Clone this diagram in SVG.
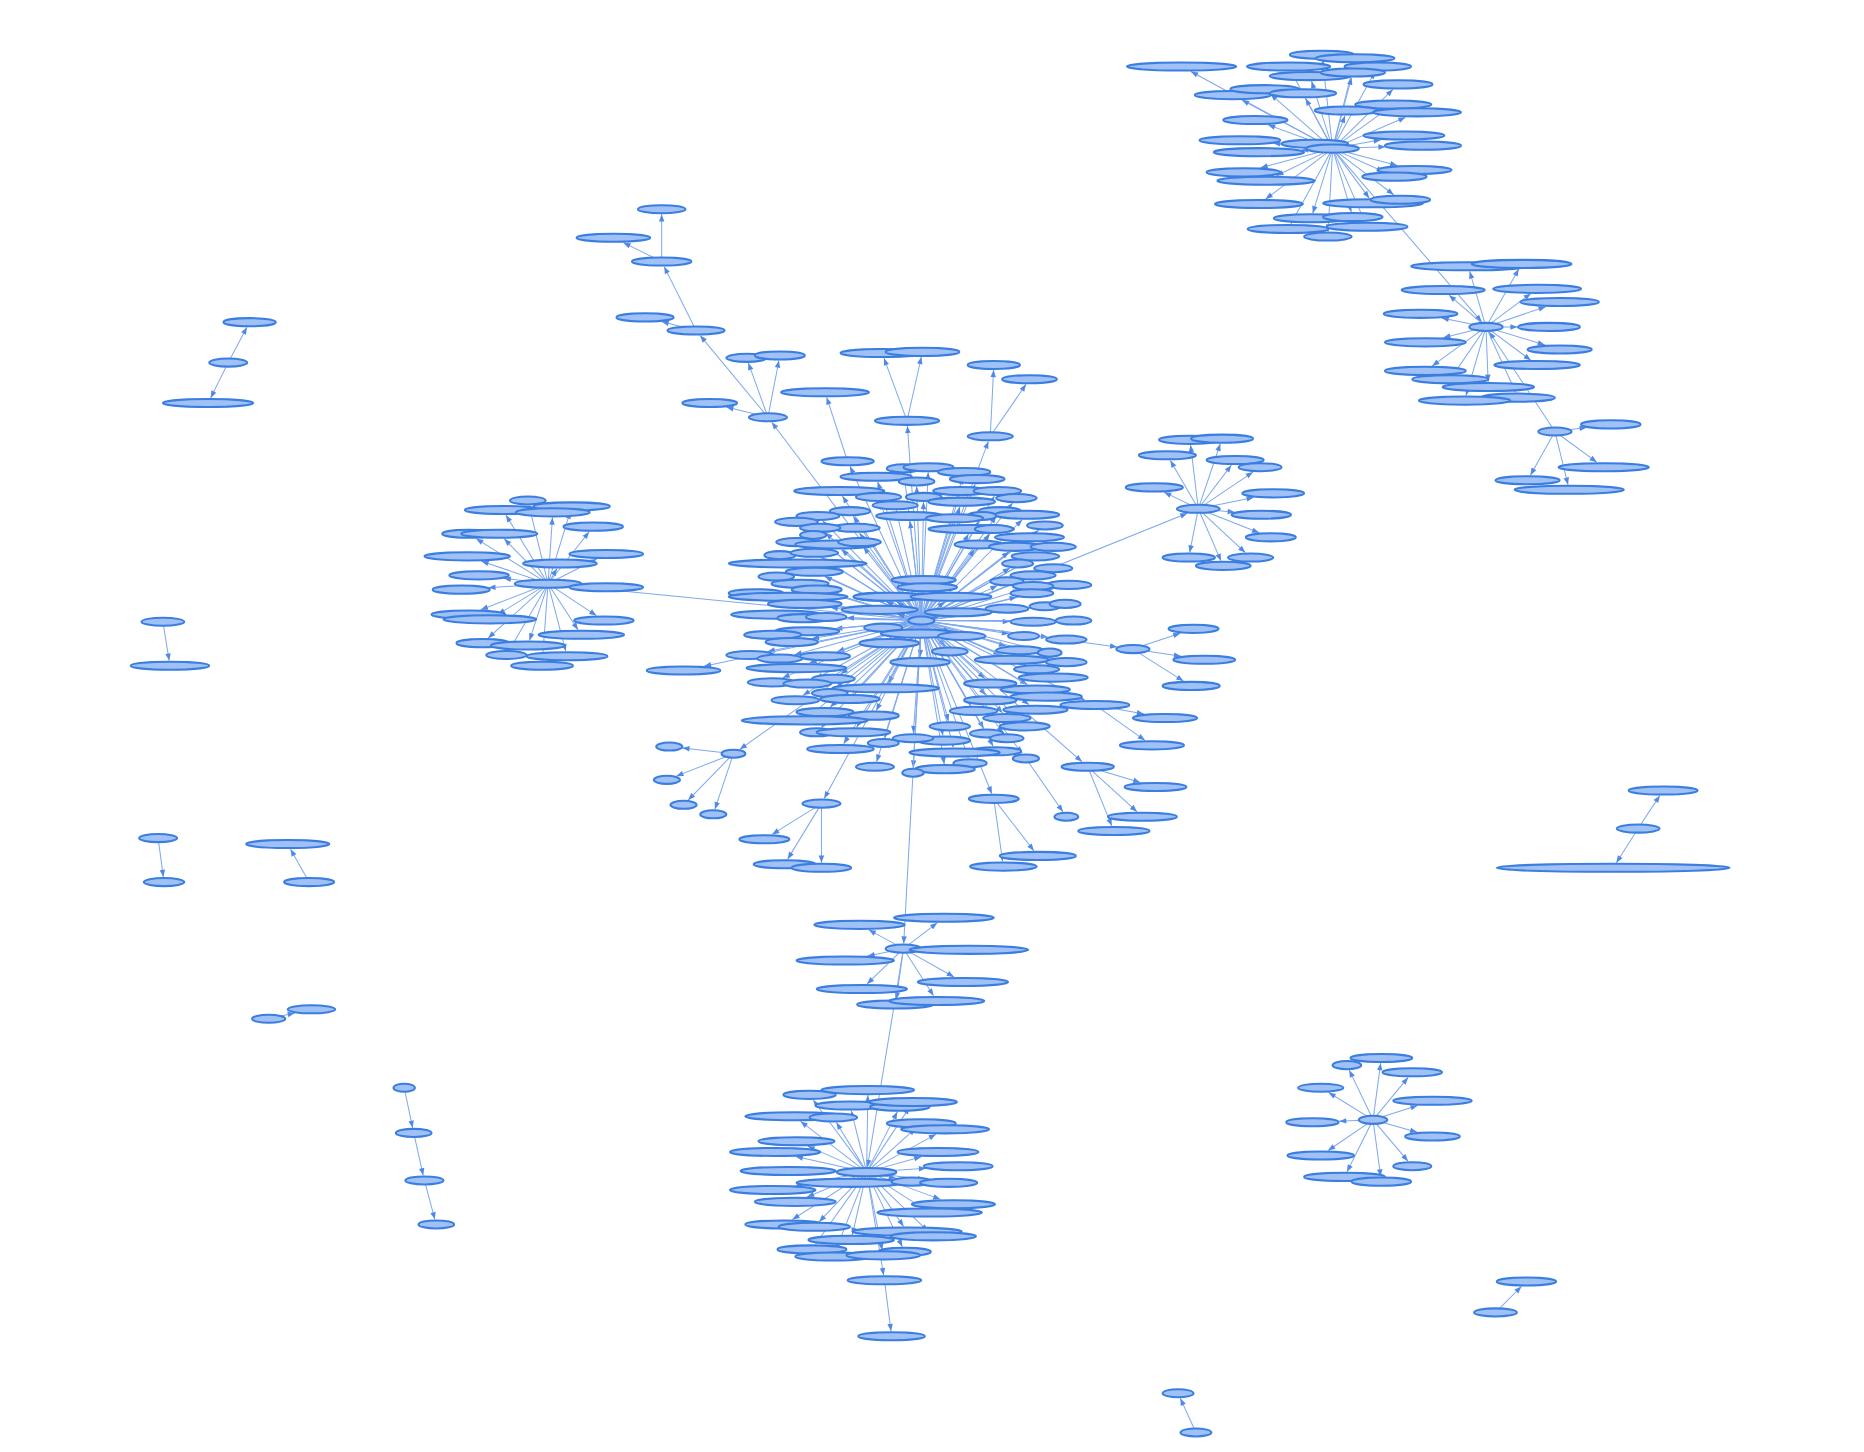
<svg xmlns="http://www.w3.org/2000/svg" width="1864" height="1452" viewBox="0 0 1864 1452">
<style>
.edges line{stroke:#7ea8ef;stroke-width:0.85;fill:none;marker-end:url(#arr)}
.nodes ellipse{fill:#9fc1f6;stroke:#3b7ee0;stroke-width:1.7}
</style>
<defs>
<marker id="arr" markerUnits="userSpaceOnUse" markerWidth="6" markerHeight="5" refX="6" refY="2.3" orient="auto" overflow="visible"><path d="M0,0 L6,2.3 L0,4.6 z" fill="#4f88e8"/></marker>
</defs>
<rect width="1864" height="1452" fill="#ffffff"/>
<g transform="scale(1.18878)">
<g class="edges" id="connectors">
<line x1="775" y1="522" x2="715" y2="392.3"/>
<line x1="775" y1="522" x2="760.5" y2="398.3"/>
<line x1="775" y1="522" x2="780.8" y2="397.3"/>
<line x1="775" y1="522" x2="809.8" y2="401.3"/>
<line x1="775" y1="522" x2="738.3" y2="405.3"/>
<line x1="775" y1="522" x2="820.3" y2="407.3"/>
<line x1="775" y1="522" x2="771.1" y2="409.3"/>
<line x1="775" y1="522" x2="708.7" y2="417.3"/>
<line x1="775" y1="522" x2="806.7" y2="417.3"/>
<line x1="775" y1="522" x2="836.5" y2="417.3"/>
<line x1="775" y1="522" x2="740.5" y2="422.3"/>
<line x1="775" y1="522" x2="776.9" y2="422.3"/>
<line x1="775" y1="522" x2="851.7" y2="423.2"/>
<line x1="775" y1="522" x2="807.5" y2="426.3"/>
<line x1="775" y1="522" x2="754" y2="429.3"/>
<line x1="775" y1="522" x2="717.8" y2="434.2"/>
<line x1="775" y1="522" x2="765.5" y2="438.3"/>
<line x1="775" y1="522" x2="692.1" y2="438.2"/>
<line x1="775" y1="522" x2="838" y2="434.2"/>
<line x1="775" y1="522" x2="859.8" y2="437.2"/>
<line x1="775" y1="522" x2="823.6" y2="438.2"/>
<line x1="775" y1="522" x2="801.6" y2="440.3"/>
<line x1="775" y1="522" x2="873.7" y2="446"/>
<line x1="775" y1="522" x2="723" y2="448.3"/>
<line x1="775" y1="522" x2="675.2" y2="443.1"/>
<line x1="775" y1="522" x2="694.5" y2="448.2"/>
<line x1="775" y1="522" x2="814.7" y2="449.3"/>
<line x1="775" y1="522" x2="832.7" y2="449.2"/>
<line x1="775" y1="522" x2="688.9" y2="453.9"/>
<line x1="775" y1="522" x2="860.5" y2="456.2"/>
<line x1="775" y1="522" x2="676.4" y2="460"/>
<line x1="775" y1="522" x2="707.8" y2="462.3"/>
<line x1="775" y1="522" x2="726.3" y2="460.2"/>
<line x1="775" y1="522" x2="819.8" y2="462.2"/>
<line x1="775" y1="522" x2="848.7" y2="464.2"/>
<line x1="775" y1="522" x2="878.8" y2="464"/>
<line x1="775" y1="522" x2="663.7" y2="470.5"/>
<line x1="775" y1="522" x2="691.4" y2="469.1"/>
<line x1="775" y1="522" x2="863.8" y2="472"/>
<line x1="775" y1="522" x2="680.2" y2="478.2"/>
<line x1="775" y1="522" x2="849.6" y2="477.8"/>
<line x1="775" y1="522" x2="876.9" y2="481.6"/>
<line x1="775" y1="522" x2="663.5" y2="488.2"/>
<line x1="775" y1="522" x2="693.8" y2="485"/>
<line x1="775" y1="522" x2="859.7" y2="487.8"/>
<line x1="775" y1="522" x2="776.7" y2="492.3"/>
<line x1="775" y1="522" x2="839.1" y2="492.6"/>
<line x1="775" y1="522" x2="685.3" y2="494.7"/>
<line x1="775" y1="522" x2="885.9" y2="495.2"/>
<line x1="775" y1="522" x2="858.1" y2="496.4"/>
<line x1="775" y1="522" x2="779.2" y2="498.3"/>
<line x1="775" y1="522" x2="699.1" y2="499.6"/>
<line x1="775" y1="522" x2="653.4" y2="501.9"/>
<line x1="775" y1="522" x2="855.3" y2="502.1"/>
<line x1="775" y1="522" x2="684.7" y2="505.9"/>
<line x1="775" y1="522" x2="745.4" y2="506"/>
<line x1="775" y1="522" x2="754.5" y2="506.2"/>
<line x1="775" y1="522" x2="794.7" y2="506.2"/>
<line x1="775" y1="522" x2="698.8" y2="511.1"/>
<line x1="775" y1="522" x2="866.3" y2="511.5"/>
<line x1="775" y1="522" x2="883.3" y2="509.5"/>
<line x1="775" y1="522" x2="831.1" y2="514.2"/>
<line x1="775" y1="522" x2="754.9" y2="516.8"/>
<line x1="775" y1="522" x2="689.2" y2="518.5"/>
<line x1="775" y1="522" x2="698.4" y2="520.5"/>
<line x1="775" y1="522" x2="712.3" y2="519.6"/>
<line x1="775" y1="522" x2="790.2" y2="518.6"/>
<line x1="775" y1="522" x2="849.5" y2="522.8"/>
<line x1="775" y1="522" x2="887.5" y2="522"/>
<line x1="775" y1="522" x2="756.4" y2="525.5"/>
<line x1="775" y1="522" x2="773.8" y2="528.7"/>
<line x1="775" y1="522" x2="702.6" y2="528.8"/>
<line x1="775" y1="522" x2="799.1" y2="531.2"/>
<line x1="775" y1="522" x2="848.8" y2="533.2"/>
<line x1="775" y1="522" x2="671.5" y2="531.9"/>
<line x1="775" y1="522" x2="683" y2="537.2"/>
<line x1="775" y1="522" x2="753.9" y2="536.8"/>
<line x1="775" y1="522" x2="881.6" y2="536"/>
<line x1="775" y1="522" x2="846.3" y2="543.5"/>
<line x1="775" y1="522" x2="874" y2="546.8"/>
<line x1="775" y1="522" x2="795.2" y2="543.8"/>
<line x1="775" y1="522" x2="645.8" y2="548"/>
<line x1="775" y1="522" x2="668.4" y2="550.7"/>
<line x1="775" y1="522" x2="704.2" y2="548.2"/>
<line x1="775" y1="522" x2="841.6" y2="550.9"/>
<line x1="775" y1="522" x2="885.6" y2="553.7"/>
<line x1="775" y1="522" x2="774" y2="552.7"/>
<line x1="775" y1="522" x2="680.9" y2="557.8"/>
<line x1="775" y1="522" x2="863" y2="559.2"/>
<line x1="775" y1="522" x2="707.1" y2="566.9"/>
<line x1="775" y1="522" x2="876.6" y2="565.9"/>
<line x1="775" y1="522" x2="658.3" y2="570.2"/>
<line x1="775" y1="522" x2="686.3" y2="571"/>
<line x1="775" y1="522" x2="747.3" y2="574.7"/>
<line x1="775" y1="522" x2="828.4" y2="570.8"/>
<line x1="775" y1="522" x2="864.1" y2="575.8"/>
<line x1="775" y1="522" x2="703.1" y2="578.9"/>
<line x1="775" y1="522" x2="718.9" y2="583.7"/>
<line x1="775" y1="522" x2="675.5" y2="584.9"/>
<line x1="775" y1="522" x2="873.1" y2="581.8"/>
<line x1="775" y1="522" x2="912.5" y2="588.9"/>
<line x1="775" y1="522" x2="829.3" y2="584.8"/>
<line x1="775" y1="522" x2="698.4" y2="594.8"/>
<line x1="775" y1="522" x2="865.6" y2="592.8"/>
<line x1="775" y1="522" x2="816.5" y2="593.7"/>
<line x1="775" y1="522" x2="737.1" y2="597.7"/>
<line x1="775" y1="522" x2="843.3" y2="599.8"/>
<line x1="775" y1="522" x2="682" y2="601.7"/>
<line x1="775" y1="522" x2="857.9" y2="606.8"/>
<line x1="775" y1="522" x2="797.8" y2="606.7"/>
<line x1="775" y1="522" x2="690.9" y2="611.9"/>
<line x1="775" y1="522" x2="720.6" y2="611.7"/>
<line x1="775" y1="522" x2="827.5" y2="612.8"/>
<line x1="775" y1="522" x2="843.9" y2="616.8"/>
<line x1="775" y1="522" x2="793.2" y2="618.7"/>
<line x1="775" y1="522" x2="768.3" y2="616.7"/>
<line x1="775" y1="522" x2="744.3" y2="620.7"/>
<line x1="775" y1="522" x2="709.7" y2="625.7"/>
<line x1="775" y1="522" x2="835.5" y2="627.7"/>
<line x1="775" y1="522" x2="801.9" y2="628.7"/>
<line x1="775" y1="522" x2="814.5" y2="637.7"/>
<line x1="775" y1="522" x2="794.3" y2="642.7"/>
<line x1="775" y1="522" x2="768.2" y2="645.7"/>
<line x1="775" y1="522" x2="737.4" y2="640.7"/>
<line x1="775" y1="522" x2="592.2" y2="560.4"/>
<line x1="775" y1="522" x2="649.2" y2="355.2"/>
<line x1="775" y1="522" x2="484.8" y2="493.4"/>
<line x1="775" y1="522" x2="622.3" y2="630.3"/>
<line x1="775" y1="522" x2="693.3" y2="671.7"/>
<line x1="775" y1="522" x2="834.3" y2="667.7"/>
<line x1="775" y1="522" x2="859.9" y2="633.9"/>
<line x1="775" y1="522" x2="910.2" y2="640.8"/>
<line x1="775" y1="522" x2="939.8" y2="544.2"/>
<line x1="775" y1="522" x2="998.8" y2="431.7"/>
<line x1="775" y1="522" x2="760.2" y2="793.7"/>
<line x1="775" y1="522" x2="831.4" y2="371.3"/>
<line x1="775" y1="522" x2="763.3" y2="358.3"/>
<line x1="713" y1="388" x2="695.4" y2="334.3"/>
<line x1="833" y1="367" x2="835.8" y2="311.3"/>
<line x1="833" y1="367" x2="863.1" y2="323.3"/>
<line x1="763" y1="354" x2="743.6" y2="301.3"/>
<line x1="763" y1="354" x2="775" y2="300.3"/>
<line x1="646" y1="351" x2="611" y2="342.4"/>
<line x1="646" y1="351" x2="629.5" y2="305.3"/>
<line x1="646" y1="351" x2="655.2" y2="303.3"/>
<line x1="646" y1="351" x2="589" y2="282.3"/>
<line x1="585.5" y1="278" x2="558.7" y2="224.3"/>
<line x1="585.5" y1="278" x2="556.5" y2="270.5"/>
<line x1="556.6" y1="220" x2="556.6" y2="180.3"/>
<line x1="556.6" y1="220" x2="524.4" y2="204.1"/>
<line x1="461" y1="491" x2="445" y2="425.3"/>
<line x1="461" y1="491" x2="425.6" y2="433.3"/>
<line x1="461" y1="491" x2="479.7" y2="430.3"/>
<line x1="461" y1="491" x2="464.7" y2="435.3"/>
<line x1="461" y1="491" x2="495.6" y2="447.3"/>
<line x1="461" y1="491" x2="400.6" y2="453.1"/>
<line x1="461" y1="491" x2="424.2" y2="453.3"/>
<line x1="461" y1="491" x2="405" y2="472.1"/>
<line x1="461" y1="491" x2="501.9" y2="470.2"/>
<line x1="461" y1="491" x2="468.5" y2="478.3"/>
<line x1="461" y1="491" x2="423.7" y2="486.5"/>
<line x1="461" y1="491" x2="410.8" y2="494.4"/>
<line x1="461" y1="491" x2="481.2" y2="492.2"/>
<line x1="461" y1="491" x2="404.5" y2="512.9"/>
<line x1="461" y1="491" x2="418.9" y2="516.8"/>
<line x1="461" y1="491" x2="501.7" y2="517.8"/>
<line x1="461" y1="491" x2="486.2" y2="529.7"/>
<line x1="461" y1="491" x2="410.6" y2="536.8"/>
<line x1="461" y1="491" x2="445.4" y2="538.7"/>
<line x1="461" y1="491" x2="428.5" y2="546.7"/>
<line x1="461" y1="491" x2="475.9" y2="547.7"/>
<line x1="461" y1="491" x2="456.3" y2="555.7"/>
<line x1="617" y1="634" x2="574" y2="629.2"/>
<line x1="617" y1="634" x2="568.9" y2="652.9"/>
<line x1="617" y1="634" x2="578.9" y2="673"/>
<line x1="617" y1="634" x2="601.4" y2="680.7"/>
<line x1="691" y1="676" x2="649.5" y2="701.9"/>
<line x1="691" y1="676" x2="662.6" y2="722.7"/>
<line x1="691" y1="676" x2="691" y2="725.7"/>
<line x1="836" y1="672" x2="843.4" y2="724.7"/>
<line x1="836" y1="672" x2="869.7" y2="715.7"/>
<line x1="863" y1="638" x2="894.1" y2="682.9"/>
<line x1="915" y1="645" x2="959.3" y2="658.2"/>
<line x1="915" y1="645" x2="956.4" y2="682.8"/>
<line x1="915" y1="645" x2="935.2" y2="694.7"/>
<line x1="921" y1="593" x2="963.1" y2="622.8"/>
<line x1="921" y1="593" x2="962.3" y2="600.7"/>
<line x1="953" y1="546" x2="992.9" y2="532.7"/>
<line x1="953" y1="546" x2="993.5" y2="552.1"/>
<line x1="953" y1="546" x2="995.5" y2="572.9"/>
<line x1="1008" y1="428" x2="1001.5" y2="374.3"/>
<line x1="1008" y1="428" x2="1026.5" y2="373.3"/>
<line x1="1008" y1="428" x2="984.5" y2="387.3"/>
<line x1="1008" y1="428" x2="1035.8" y2="391.3"/>
<line x1="1008" y1="428" x2="1054" y2="397.1"/>
<line x1="1008" y1="428" x2="979.3" y2="414"/>
<line x1="1008" y1="428" x2="1054.6" y2="418.4"/>
<line x1="1008" y1="428" x2="1038.7" y2="430.9"/>
<line x1="1008" y1="428" x2="1059.2" y2="448.2"/>
<line x1="1008" y1="428" x2="1000.8" y2="464.7"/>
<line x1="1008" y1="428" x2="1047.5" y2="464.8"/>
<line x1="1008" y1="428" x2="1027.1" y2="471.8"/>
<line x1="760" y1="798" x2="730.8" y2="782.2"/>
<line x1="760" y1="798" x2="788.4" y2="776.3"/>
<line x1="760" y1="798" x2="766" y2="798.1"/>
<line x1="760" y1="798" x2="729.8" y2="804.2"/>
<line x1="760" y1="798" x2="802.5" y2="821.8"/>
<line x1="760" y1="798" x2="729.4" y2="827.7"/>
<line x1="760" y1="798" x2="754" y2="840.7"/>
<line x1="760" y1="798" x2="785.3" y2="837.7"/>
<line x1="760" y1="798" x2="729.7" y2="981.7"/>
<line x1="729" y1="986" x2="684.1" y2="925.3"/>
<line x1="729" y1="986" x2="730" y2="921.3"/>
<line x1="729" y1="986" x2="716.1" y2="934.3"/>
<line x1="729" y1="986" x2="754.8" y2="935.3"/>
<line x1="729" y1="986" x2="765.2" y2="931.3"/>
<line x1="729" y1="986" x2="673.5" y2="943.3"/>
<line x1="729" y1="986" x2="703.6" y2="944.3"/>
<line x1="729" y1="986" x2="770.2" y2="949.2"/>
<line x1="729" y1="986" x2="787.3" y2="954.2"/>
<line x1="729" y1="986" x2="679.4" y2="964.1"/>
<line x1="729" y1="986" x2="669.4" y2="972.8"/>
<line x1="729" y1="986" x2="775" y2="973"/>
<line x1="729" y1="986" x2="779" y2="982.8"/>
<line x1="729" y1="986" x2="703.5" y2="985.6"/>
<line x1="729" y1="986" x2="753.7" y2="991.2"/>
<line x1="729" y1="986" x2="778.3" y2="992.4"/>
<line x1="729" y1="986" x2="669.3" y2="997.3"/>
<line x1="729" y1="986" x2="678.9" y2="1006.9"/>
<line x1="729" y1="986" x2="791" y2="1008.9"/>
<line x1="729" y1="986" x2="775.4" y2="1015.8"/>
<line x1="729" y1="986" x2="666.6" y2="1025.8"/>
<line x1="729" y1="986" x2="689.1" y2="1027.7"/>
<line x1="729" y1="986" x2="760.1" y2="1031.7"/>
<line x1="729" y1="986" x2="780.6" y2="1035.7"/>
<line x1="729" y1="986" x2="717" y2="1038.7"/>
<line x1="729" y1="986" x2="686" y2="1046.7"/>
<line x1="729" y1="986" x2="759" y2="1048.7"/>
<line x1="729" y1="986" x2="702.7" y2="1052.7"/>
<line x1="729" y1="986" x2="742.1" y2="1051.7"/>
<line x1="729" y1="986" x2="743.3" y2="1072.7"/>
<line x1="744" y1="1077" x2="749.5" y2="1119.7"/>
<line x1="1121" y1="125" x2="1001.8" y2="60.2"/>
<line x1="1121" y1="125" x2="1112.5" y2="50.3"/>
<line x1="1121" y1="125" x2="1138.9" y2="53.3"/>
<line x1="1121" y1="125" x2="1086.3" y2="60.3"/>
<line x1="1121" y1="125" x2="1156.6" y2="60.3"/>
<line x1="1121" y1="125" x2="1103.3" y2="68.3"/>
<line x1="1121" y1="125" x2="1136.9" y2="65.3"/>
<line x1="1121" y1="125" x2="1171.7" y2="75.2"/>
<line x1="1121" y1="125" x2="1044.8" y2="84.2"/>
<line x1="1121" y1="125" x2="1068.8" y2="79.2"/>
<line x1="1121" y1="125" x2="1098.3" y2="82.8"/>
<line x1="1121" y1="125" x2="1066.7" y2="105"/>
<line x1="1121" y1="125" x2="1166.2" y2="92.2"/>
<line x1="1121" y1="125" x2="1131.4" y2="97.3"/>
<line x1="1121" y1="125" x2="1182.3" y2="98.7"/>
<line x1="1121" y1="125" x2="1071" y2="120.5"/>
<line x1="1121" y1="125" x2="1094.4" y2="126.3"/>
<line x1="1121" y1="125" x2="1161.6" y2="117.6"/>
<line x1="1121" y1="125" x2="1165.5" y2="123.5"/>
<line x1="1121" y1="125" x2="1060.4" y2="141.2"/>
<line x1="1121" y1="125" x2="1073.7" y2="147.8"/>
<line x1="1121" y1="125" x2="1175.4" y2="139.2"/>
<line x1="1121" y1="125" x2="1164" y2="144.5"/>
<line x1="1121" y1="125" x2="1064.7" y2="167.4"/>
<line x1="1121" y1="125" x2="1151.8" y2="166.7"/>
<line x1="1121" y1="125" x2="1172.4" y2="163.8"/>
<line x1="1121" y1="125" x2="1104.3" y2="179.3"/>
<line x1="1121" y1="125" x2="1136.7" y2="178.3"/>
<line x1="1121" y1="125" x2="1085.9" y2="188.3"/>
<line x1="1121" y1="125" x2="1148.1" y2="186.4"/>
<line x1="1121" y1="125" x2="1117.2" y2="194.7"/>
<line x1="1121" y1="125" x2="1246.4" y2="270.8"/>
<line x1="1308" y1="363" x2="1252.8" y2="279.2"/>
<line x1="1250" y1="275" x2="1236.3" y2="228.3"/>
<line x1="1250" y1="275" x2="1277.6" y2="226.3"/>
<line x1="1250" y1="275" x2="1219" y2="248.3"/>
<line x1="1250" y1="275" x2="1287.7" y2="246.9"/>
<line x1="1250" y1="275" x2="1300.2" y2="258"/>
<line x1="1250" y1="275" x2="1212.7" y2="267.5"/>
<line x1="1250" y1="275" x2="1276.5" y2="275"/>
<line x1="1250" y1="275" x2="1214.1" y2="284.1"/>
<line x1="1250" y1="275" x2="1299.5" y2="290.2"/>
<line x1="1250" y1="275" x2="1287.7" y2="303.1"/>
<line x1="1250" y1="275" x2="1204.8" y2="307.8"/>
<line x1="1250" y1="275" x2="1222.9" y2="314.7"/>
<line x1="1250" y1="275" x2="1251.8" y2="321.2"/>
<line x1="1250" y1="275" x2="1275" y2="330.2"/>
<line x1="1250" y1="275" x2="1233.2" y2="332.7"/>
<line x1="1308" y1="363" x2="1334.7" y2="359.6"/>
<line x1="1308" y1="363" x2="1287.4" y2="399.7"/>
<line x1="1308" y1="363" x2="1343.2" y2="388.8"/>
<line x1="1308" y1="363" x2="1319" y2="407.7"/>
<line x1="1155" y1="942" x2="1135" y2="900.2"/>
<line x1="1155" y1="942" x2="1161.4" y2="894.3"/>
<line x1="1155" y1="942" x2="1184.5" y2="906.3"/>
<line x1="1155" y1="942" x2="1192.5" y2="930"/>
<line x1="1155" y1="942" x2="1117.6" y2="919"/>
<line x1="1155" y1="942" x2="1126.5" y2="943.1"/>
<line x1="1155" y1="942" x2="1192.2" y2="952.4"/>
<line x1="1155" y1="942" x2="1117.2" y2="967.8"/>
<line x1="1155" y1="942" x2="1184.4" y2="976.8"/>
<line x1="1155" y1="942" x2="1133.1" y2="985.7"/>
<line x1="1155" y1="942" x2="1161.4" y2="989.7"/>
<line x1="192" y1="305" x2="207.7" y2="275.3"/>
<line x1="192" y1="305" x2="177.2" y2="334.7"/>
<line x1="137" y1="523" x2="142.3" y2="555.7"/>
<line x1="133" y1="705" x2="137.4" y2="737.7"/>
<line x1="260" y1="742" x2="244.4" y2="714.3"/>
<line x1="226" y1="857" x2="248" y2="852.1"/>
<line x1="340" y1="915" x2="347.1" y2="948.7"/>
<line x1="348" y1="953" x2="356" y2="988.7"/>
<line x1="357" y1="993" x2="365.8" y2="1025.7"/>
<line x1="1006" y1="1205" x2="992.9" y2="1176.3"/>
<line x1="1258" y1="1104" x2="1279.8" y2="1082.2"/>
<line x1="1378" y1="697" x2="1396.2" y2="669.3"/>
<line x1="1378" y1="697" x2="1359.7" y2="725.7"/>
</g>
<g class="nodes">
<g id="hub"><ellipse cx="775" cy="522" rx="11" ry="3.4"/></g>
<g id="c1"><ellipse cx="713" cy="388" rx="22" ry="3.4"/></g>
<g id="c2"><ellipse cx="760" cy="394" rx="14" ry="3.4"/></g>
<g id="c3"><ellipse cx="781" cy="393" rx="21" ry="3.4"/></g>
<g id="c4"><ellipse cx="811" cy="397" rx="22" ry="3.4"/></g>
<g id="c5"><ellipse cx="737" cy="401" rx="30" ry="3.4"/></g>
<g id="c6"><ellipse cx="822" cy="403" rx="23" ry="3.4"/></g>
<g id="c7"><ellipse cx="771" cy="405" rx="15" ry="3.4"/></g>
<g id="c8"><ellipse cx="706" cy="413" rx="38" ry="3.4"/></g>
<g id="c9"><ellipse cx="808" cy="413" rx="23" ry="3.4"/></g>
<g id="c10"><ellipse cx="839" cy="413" rx="20" ry="3.4"/></g>
<g id="c11"><ellipse cx="739" cy="418" rx="19" ry="3.4"/></g>
<g id="c12"><ellipse cx="777" cy="418" rx="15" ry="3.4"/></g>
<g id="c13"><ellipse cx="855" cy="419" rx="17" ry="3.4"/></g>
<g id="c14"><ellipse cx="809" cy="422" rx="28" ry="3.4"/></g>
<g id="c15"><ellipse cx="753" cy="425" rx="19" ry="3.4"/></g>
<g id="c16"><ellipse cx="715" cy="430" rx="17" ry="3.4"/></g>
<g id="c17"><ellipse cx="765" cy="434" rx="28" ry="3.4"/></g>
<g id="c18"><ellipse cx="688" cy="434" rx="18" ry="3.4"/></g>
<g id="c19"><ellipse cx="841" cy="430" rx="18" ry="3.4"/></g>
<g id="c20"><ellipse cx="864" cy="433" rx="27" ry="3.4"/></g>
<g id="c21"><ellipse cx="826" cy="434" rx="12" ry="3.4"/></g>
<g id="c22"><ellipse cx="803" cy="436" rx="24" ry="3.4"/></g>
<g id="c23"><ellipse cx="879" cy="442" rx="15" ry="3.4"/></g>
<g id="c24"><ellipse cx="720" cy="444" rx="20" ry="3.4"/></g>
<g id="c25"><ellipse cx="670" cy="439" rx="18" ry="3.4"/></g>
<g id="c26"><ellipse cx="690" cy="444" rx="17" ry="3.4"/></g>
<g id="c27"><ellipse cx="817" cy="445" rx="36" ry="3.4"/></g>
<g id="c28"><ellipse cx="836" cy="445" rx="16" ry="3.4"/></g>
<g id="c29"><ellipse cx="684" cy="450" rx="11" ry="3.4"/></g>
<g id="c30"><ellipse cx="866" cy="452" rx="29" ry="3.4"/></g>
<g id="c31"><ellipse cx="670" cy="456" rx="17" ry="3.4"/></g>
<g id="c32"><ellipse cx="703" cy="458" rx="34" ry="3.4"/></g>
<g id="c33"><ellipse cx="723" cy="456" rx="18" ry="3.4"/></g>
<g id="c34"><ellipse cx="823" cy="458" rx="20" ry="3.4"/></g>
<g id="c35"><ellipse cx="854" cy="460" rx="22" ry="3.4"/></g>
<g id="c36"><ellipse cx="886" cy="460" rx="19" ry="3.4"/></g>
<g id="c37"><ellipse cx="656" cy="467" rx="13" ry="3.4"/></g>
<g id="c38"><ellipse cx="685" cy="465" rx="20" ry="3.4"/></g>
<g id="c39"><ellipse cx="871" cy="468" rx="20" ry="3.4"/></g>
<g id="c40"><ellipse cx="671" cy="474" rx="58" ry="3.4"/></g>
<g id="c41"><ellipse cx="856" cy="474" rx="13" ry="3.4"/></g>
<g id="c42"><ellipse cx="886" cy="478" rx="16" ry="3.4"/></g>
<g id="c43"><ellipse cx="653" cy="485" rx="15" ry="3.4"/></g>
<g id="c44"><ellipse cx="685" cy="481" rx="24" ry="3.4"/></g>
<g id="c45"><ellipse cx="869" cy="484" rx="19" ry="3.4"/></g>
<g id="c46"><ellipse cx="777" cy="488" rx="27" ry="3.4"/></g>
<g id="c47"><ellipse cx="847" cy="489" rx="14" ry="3.4"/></g>
<g id="c48"><ellipse cx="673" cy="491" rx="24" ry="3.4"/></g>
<g id="c49"><ellipse cx="899" cy="492" rx="19" ry="3.4"/></g>
<g id="c50"><ellipse cx="869" cy="493" rx="17" ry="3.4"/></g>
<g id="c51"><ellipse cx="780" cy="494" rx="25" ry="3.4"/></g>
<g id="c52"><ellipse cx="687" cy="496" rx="21" ry="3.4"/></g>
<g id="c53"><ellipse cx="636" cy="499" rx="23" ry="3.4"/></g>
<g id="c54"><ellipse cx="868" cy="499" rx="18" ry="3.4"/></g>
<g id="c55"><ellipse cx="663" cy="502" rx="50" ry="3.4"/></g>
<g id="c56"><ellipse cx="738" cy="502" rx="20" ry="3.4"/></g>
<g id="c57"><ellipse cx="749" cy="502" rx="31" ry="3.4"/></g>
<g id="c58"><ellipse cx="800" cy="502" rx="34" ry="3.4"/></g>
<g id="c59"><ellipse cx="677" cy="508" rx="31" ry="3.4"/></g>
<g id="c60"><ellipse cx="879" cy="510" rx="13" ry="3.4"/></g>
<g id="c61"><ellipse cx="896" cy="508" rx="13" ry="3.4"/></g>
<g id="c62"><ellipse cx="847" cy="512" rx="18" ry="3.4"/></g>
<g id="c63"><ellipse cx="740" cy="513" rx="32" ry="3.4"/></g>
<g id="c64"><ellipse cx="653" cy="517" rx="38" ry="3.4"/></g>
<g id="c65"><ellipse cx="676" cy="520" rx="22" ry="3.4"/></g>
<g id="c66"><ellipse cx="695" cy="519" rx="17" ry="3.4"/></g>
<g id="c67"><ellipse cx="806" cy="515" rx="28" ry="3.4"/></g>
<g id="c68"><ellipse cx="869" cy="523" rx="19" ry="3.4"/></g>
<g id="c69"><ellipse cx="903" cy="522" rx="15" ry="3.4"/></g>
<g id="c70"><ellipse cx="743" cy="528" rx="16" ry="3.4"/></g>
<g id="c71"><ellipse cx="773" cy="533" rx="32" ry="3.4"/></g>
<g id="c72"><ellipse cx="679" cy="531" rx="27" ry="3.4"/></g>
<g id="c73"><ellipse cx="809" cy="535" rx="20" ry="3.4"/></g>
<g id="c74"><ellipse cx="861" cy="535" rx="13" ry="3.4"/></g>
<g id="c75"><ellipse cx="650" cy="534" rx="24" ry="3.4"/></g>
<g id="c76"><ellipse cx="666" cy="540" rx="22" ry="3.4"/></g>
<g id="c77"><ellipse cx="748" cy="541" rx="25" ry="3.4"/></g>
<g id="c78"><ellipse cx="897" cy="538" rx="17" ry="3.4"/></g>
<g id="c79"><ellipse cx="858" cy="547" rx="20" ry="3.4"/></g>
<g id="c80"><ellipse cx="883" cy="549" rx="10" ry="3.4"/></g>
<g id="c81"><ellipse cx="799" cy="548" rx="15" ry="3.4"/></g>
<g id="c82"><ellipse cx="631" cy="551" rx="20" ry="3.4"/></g>
<g id="c83"><ellipse cx="656" cy="554" rx="19" ry="3.4"/></g>
<g id="c84"><ellipse cx="694" cy="552" rx="21" ry="3.4"/></g>
<g id="c85"><ellipse cx="851" cy="555" rx="31" ry="3.4"/></g>
<g id="c86"><ellipse cx="897" cy="557" rx="17" ry="3.4"/></g>
<g id="c87"><ellipse cx="774" cy="557" rx="25" ry="3.4"/></g>
<g id="c88"><ellipse cx="670" cy="562" rx="42" ry="3.4"/></g>
<g id="c89"><ellipse cx="872" cy="563" rx="19" ry="3.4"/></g>
<g id="c90"><ellipse cx="701" cy="571" rx="18" ry="3.4"/></g>
<g id="c91"><ellipse cx="886" cy="570" rx="29" ry="3.4"/></g>
<g id="c92"><ellipse cx="649" cy="574" rx="20" ry="3.4"/></g>
<g id="c93"><ellipse cx="679" cy="575" rx="20" ry="3.4"/></g>
<g id="c94"><ellipse cx="745" cy="579" rx="45" ry="3.4"/></g>
<g id="c95"><ellipse cx="833" cy="575" rx="22" ry="3.4"/></g>
<g id="c96"><ellipse cx="871" cy="580" rx="29" ry="3.4"/></g>
<g id="c97"><ellipse cx="698" cy="583" rx="15" ry="3.4"/></g>
<g id="c98"><ellipse cx="715" cy="588" rx="25" ry="3.4"/></g>
<g id="c99"><ellipse cx="669" cy="589" rx="20" ry="3.4"/></g>
<g id="c100"><ellipse cx="880" cy="586" rx="30" ry="3.4"/></g>
<g id="c101"><ellipse cx="921" cy="593" rx="29" ry="3.4"/></g>
<g id="c102"><ellipse cx="833" cy="589" rx="22" ry="3.4"/></g>
<g id="c103"><ellipse cx="694" cy="599" rx="24" ry="3.4"/></g>
<g id="c104"><ellipse cx="871" cy="597" rx="27" ry="3.4"/></g>
<g id="c105"><ellipse cx="819" cy="598" rx="20" ry="3.4"/></g>
<g id="c106"><ellipse cx="735" cy="602" rx="21" ry="3.4"/></g>
<g id="c107"><ellipse cx="847" cy="604" rx="20" ry="3.4"/></g>
<g id="c108"><ellipse cx="677" cy="606" rx="53" ry="3.4"/></g>
<g id="c109"><ellipse cx="862" cy="611" rx="21" ry="3.4"/></g>
<g id="c110"><ellipse cx="799" cy="611" rx="17" ry="3.4"/></g>
<g id="c111"><ellipse cx="687" cy="616" rx="14" ry="3.4"/></g>
<g id="c112"><ellipse cx="718" cy="616" rx="31" ry="3.4"/></g>
<g id="c113"><ellipse cx="830" cy="617" rx="14" ry="3.4"/></g>
<g id="c114"><ellipse cx="847" cy="621" rx="14" ry="3.4"/></g>
<g id="c115"><ellipse cx="794" cy="623" rx="22" ry="3.4"/></g>
<g id="c116"><ellipse cx="768" cy="621" rx="17" ry="3.4"/></g>
<g id="c117"><ellipse cx="743" cy="625" rx="13" ry="3.4"/></g>
<g id="c118"><ellipse cx="707" cy="630" rx="28" ry="3.4"/></g>
<g id="c119"><ellipse cx="838" cy="632" rx="21" ry="3.4"/></g>
<g id="c120"><ellipse cx="803" cy="633" rx="38" ry="3.4"/></g>
<g id="c121"><ellipse cx="816" cy="642" rx="14" ry="3.4"/></g>
<g id="c122"><ellipse cx="795" cy="647" rx="25" ry="3.4"/></g>
<g id="c123"><ellipse cx="768" cy="650" rx="9" ry="3.4"/></g>
<g id="c124"><ellipse cx="736" cy="645" rx="16" ry="3.4"/></g>
<g id="c125"><ellipse cx="575" cy="564" rx="31" ry="3.4"/></g>
<g id="s1"><ellipse cx="646" cy="351" rx="16" ry="3.4"/></g>
<g id="s2"><ellipse cx="461" cy="491" rx="28" ry="3.4"/></g>
<g id="s3"><ellipse cx="617" cy="634" rx="10" ry="3.4"/></g>
<g id="s4"><ellipse cx="691" cy="676" rx="16" ry="3.4"/></g>
<g id="s5"><ellipse cx="836" cy="672" rx="21" ry="3.4"/></g>
<g id="s6"><ellipse cx="863" cy="638" rx="11" ry="3.4"/></g>
<g id="s7"><ellipse cx="915" cy="645" rx="22" ry="3.4"/></g>
<g id="s8"><ellipse cx="953" cy="546" rx="14" ry="3.4"/></g>
<g id="s9"><ellipse cx="1008" cy="428" rx="18" ry="3.4"/></g>
<g id="s10"><ellipse cx="760" cy="798" rx="15" ry="3.4"/></g>
<g id="s11"><ellipse cx="833" cy="367" rx="19" ry="3.4"/></g>
<g id="s12"><ellipse cx="763" cy="354" rx="27" ry="3.4"/></g>
<g id="a1"><ellipse cx="694" cy="330" rx="37" ry="3.4"/></g>
<g id="a2"><ellipse cx="836" cy="307" rx="22" ry="3.4"/></g>
<g id="a3"><ellipse cx="866" cy="319" rx="23" ry="3.4"/></g>
<g id="a4"><ellipse cx="742" cy="297" rx="35" ry="3.4"/></g>
<g id="a5"><ellipse cx="776" cy="296" rx="31" ry="3.4"/></g>
<g id="k1"><ellipse cx="597" cy="339" rx="23" ry="3.4"/></g>
<g id="k2"><ellipse cx="628" cy="301" rx="17" ry="3.4"/></g>
<g id="k3"><ellipse cx="656" cy="299" rx="21" ry="3.4"/></g>
<g id="k4"><ellipse cx="585.5" cy="278" rx="24" ry="3.4"/></g>
<g id="k5"><ellipse cx="542.6" cy="267" rx="24" ry="3.4"/></g>
<g id="k6"><ellipse cx="556.6" cy="220" rx="25" ry="3.4"/></g>
<g id="k7"><ellipse cx="556.6" cy="176" rx="20" ry="3.4"/></g>
<g id="k8"><ellipse cx="516" cy="200" rx="31" ry="3.4"/></g>
<g id="L1"><ellipse cx="444" cy="421" rx="15" ry="3.4"/></g>
<g id="L2"><ellipse cx="423" cy="429" rx="32" ry="3.4"/></g>
<g id="L3"><ellipse cx="481" cy="426" rx="32" ry="3.4"/></g>
<g id="L4"><ellipse cx="465" cy="431" rx="31" ry="3.4"/></g>
<g id="L5"><ellipse cx="499" cy="443" rx="25" ry="3.4"/></g>
<g id="L6"><ellipse cx="394" cy="449" rx="22" ry="3.4"/></g>
<g id="L7"><ellipse cx="420" cy="449" rx="32" ry="3.4"/></g>
<g id="L8"><ellipse cx="393" cy="468" rx="36" ry="3.4"/></g>
<g id="L9"><ellipse cx="510" cy="466" rx="31" ry="3.4"/></g>
<g id="L10"><ellipse cx="471" cy="474" rx="31" ry="3.4"/></g>
<g id="L11"><ellipse cx="403" cy="484" rx="25" ry="3.4"/></g>
<g id="L12"><ellipse cx="388" cy="496" rx="24" ry="3.4"/></g>
<g id="L13"><ellipse cx="510" cy="494" rx="31" ry="3.4"/></g>
<g id="L14"><ellipse cx="394" cy="517" rx="31" ry="3.4"/></g>
<g id="L15"><ellipse cx="412" cy="521" rx="39" ry="3.4"/></g>
<g id="L16"><ellipse cx="508" cy="522" rx="25" ry="3.4"/></g>
<g id="L17"><ellipse cx="489" cy="534" rx="36" ry="3.4"/></g>
<g id="L18"><ellipse cx="406" cy="541" rx="22" ry="3.4"/></g>
<g id="L19"><ellipse cx="444" cy="543" rx="31" ry="3.4"/></g>
<g id="L20"><ellipse cx="426" cy="551" rx="17" ry="3.4"/></g>
<g id="L21"><ellipse cx="477" cy="552" rx="34" ry="3.4"/></g>
<g id="L22"><ellipse cx="456" cy="560" rx="26" ry="3.4"/></g>
<g id="m1"><ellipse cx="563" cy="628" rx="11" ry="3.4"/></g>
<g id="m2"><ellipse cx="561" cy="656" rx="11" ry="3.4"/></g>
<g id="m3"><ellipse cx="575" cy="677" rx="11" ry="3.4"/></g>
<g id="m4"><ellipse cx="600" cy="685" rx="11" ry="3.4"/></g>
<g id="m5"><ellipse cx="643" cy="706" rx="21" ry="3.4"/></g>
<g id="m6"><ellipse cx="660" cy="727" rx="26" ry="3.4"/></g>
<g id="m7"><ellipse cx="691" cy="730" rx="25" ry="3.4"/></g>
<g id="m8"><ellipse cx="844" cy="729" rx="28" ry="3.4"/></g>
<g id="m9"><ellipse cx="873" cy="720" rx="32" ry="3.4"/></g>
<g id="m10"><ellipse cx="897" cy="687" rx="10" ry="3.4"/></g>
<g id="m11"><ellipse cx="972" cy="662" rx="26" ry="3.4"/></g>
<g id="m12"><ellipse cx="961" cy="687" rx="29" ry="3.4"/></g>
<g id="m13"><ellipse cx="937" cy="699" rx="30" ry="3.4"/></g>
<g id="m14"><ellipse cx="969" cy="627" rx="27" ry="3.4"/></g>
<g id="m15"><ellipse cx="980" cy="604" rx="27" ry="3.4"/></g>
<g id="m16"><ellipse cx="1004" cy="529" rx="21" ry="3.4"/></g>
<g id="m17"><ellipse cx="1013" cy="555" rx="26" ry="3.4"/></g>
<g id="m18"><ellipse cx="1002" cy="577" rx="24" ry="3.4"/></g>
<g id="R1"><ellipse cx="1001" cy="370" rx="26" ry="3.4"/></g>
<g id="R2"><ellipse cx="1028" cy="369" rx="26" ry="3.4"/></g>
<g id="R3"><ellipse cx="982" cy="383" rx="24" ry="3.4"/></g>
<g id="R4"><ellipse cx="1039" cy="387" rx="24" ry="3.4"/></g>
<g id="R5"><ellipse cx="1060" cy="393" rx="18" ry="3.4"/></g>
<g id="R6"><ellipse cx="971" cy="410" rx="24" ry="3.4"/></g>
<g id="R7"><ellipse cx="1071" cy="415" rx="26" ry="3.4"/></g>
<g id="R8"><ellipse cx="1061" cy="433" rx="25" ry="3.4"/></g>
<g id="R9"><ellipse cx="1069" cy="452" rx="21" ry="3.4"/></g>
<g id="R10"><ellipse cx="1000" cy="469" rx="22" ry="3.4"/></g>
<g id="R11"><ellipse cx="1052" cy="469" rx="19" ry="3.4"/></g>
<g id="R12"><ellipse cx="1029" cy="476" rx="23" ry="3.4"/></g>
<g id="B1"><ellipse cx="723" cy="778" rx="38" ry="3.4"/></g>
<g id="B2"><ellipse cx="794" cy="772" rx="42" ry="3.4"/></g>
<g id="B3"><ellipse cx="815" cy="799" rx="50" ry="3.4"/></g>
<g id="B4"><ellipse cx="711" cy="808" rx="41" ry="3.4"/></g>
<g id="B5"><ellipse cx="810" cy="826" rx="38" ry="3.4"/></g>
<g id="B6"><ellipse cx="725" cy="832" rx="38" ry="3.4"/></g>
<g id="B7"><ellipse cx="753" cy="845" rx="32" ry="3.4"/></g>
<g id="B8"><ellipse cx="788" cy="842" rx="40" ry="3.4"/></g>
<g id="D1"><ellipse cx="681" cy="921" rx="22" ry="3.4"/></g>
<g id="D2"><ellipse cx="730" cy="917" rx="39" ry="3.4"/></g>
<g id="D3"><ellipse cx="715" cy="930" rx="29" ry="3.4"/></g>
<g id="D4"><ellipse cx="757" cy="931" rx="25" ry="3.4"/></g>
<g id="D5"><ellipse cx="768" cy="927" rx="37" ry="3.4"/></g>
<g id="D6"><ellipse cx="668" cy="939" rx="41" ry="3.4"/></g>
<g id="D7"><ellipse cx="701" cy="940" rx="20" ry="3.4"/></g>
<g id="D8"><ellipse cx="775" cy="945" rx="29" ry="3.4"/></g>
<g id="D9"><ellipse cx="795" cy="950" rx="37" ry="3.4"/></g>
<g id="D10"><ellipse cx="670" cy="960" rx="32" ry="3.4"/></g>
<g id="D11"><ellipse cx="652" cy="969" rx="38" ry="3.4"/></g>
<g id="D12"><ellipse cx="789" cy="969" rx="34" ry="3.4"/></g>
<g id="D13"><ellipse cx="806" cy="981" rx="29" ry="3.4"/></g>
<g id="D14"><ellipse cx="663" cy="985" rx="40" ry="3.4"/></g>
<g id="D15"><ellipse cx="715" cy="995" rx="45" ry="3.4"/></g>
<g id="D16"><ellipse cx="767" cy="994" rx="17" ry="3.4"/></g>
<g id="D17"><ellipse cx="798" cy="995" rx="24" ry="3.4"/></g>
<g id="D18"><ellipse cx="650" cy="1001" rx="36" ry="3.4"/></g>
<g id="D19"><ellipse cx="669" cy="1011" rx="34" ry="3.4"/></g>
<g id="D20"><ellipse cx="802" cy="1013" rx="35" ry="3.4"/></g>
<g id="D21"><ellipse cx="782" cy="1020" rx="44" ry="3.4"/></g>
<g id="D22"><ellipse cx="660" cy="1030" rx="33" ry="3.4"/></g>
<g id="D23"><ellipse cx="685" cy="1032" rx="30" ry="3.4"/></g>
<g id="D24"><ellipse cx="763" cy="1036" rx="46" ry="3.4"/></g>
<g id="D25"><ellipse cx="785" cy="1040" rx="36" ry="3.4"/></g>
<g id="D26"><ellipse cx="716" cy="1043" rx="36" ry="3.4"/></g>
<g id="D27"><ellipse cx="683" cy="1051" rx="29" ry="3.4"/></g>
<g id="D28"><ellipse cx="761" cy="1053" rx="22" ry="3.4"/></g>
<g id="D29"><ellipse cx="701" cy="1057" rx="32" ry="3.4"/></g>
<g id="D30"><ellipse cx="743" cy="1056" rx="31" ry="3.4"/></g>
<g id="Q"><ellipse cx="729" cy="986" rx="25" ry="3.4"/></g>
<g id="D31"><ellipse cx="744" cy="1077" rx="31" ry="3.4"/></g>
<g id="D32"><ellipse cx="750" cy="1124" rx="28" ry="3.4"/></g>
<g id="Ta"><ellipse cx="994" cy="56" rx="46" ry="3.4"/></g>
<g id="Tb"><ellipse cx="1112" cy="46" rx="27" ry="3.4"/></g>
<g id="Tc"><ellipse cx="1140" cy="49" rx="33" ry="3.4"/></g>
<g id="Td"><ellipse cx="1084" cy="56" rx="35" ry="3.4"/></g>
<g id="Te"><ellipse cx="1159" cy="56" rx="28" ry="3.4"/></g>
<g id="Tf"><ellipse cx="1102" cy="64" rx="34" ry="3.4"/></g>
<g id="Tg"><ellipse cx="1138" cy="61" rx="27" ry="3.4"/></g>
<g id="Th"><ellipse cx="1176" cy="71" rx="29" ry="3.4"/></g>
<g id="Ti"><ellipse cx="1037" cy="80" rx="32" ry="3.4"/></g>
<g id="Tj"><ellipse cx="1064" cy="75" rx="29" ry="3.4"/></g>
<g id="Tk"><ellipse cx="1096" cy="78.5" rx="28" ry="3.4"/></g>
<g id="Tl"><ellipse cx="1056" cy="101" rx="27" ry="3.4"/></g>
<g id="Tm"><ellipse cx="1172" cy="88" rx="32" ry="3.4"/></g>
<g id="Tn"><ellipse cx="1133" cy="93" rx="27" ry="3.4"/></g>
<g id="To"><ellipse cx="1192" cy="94.5" rx="37" ry="3.4"/></g>
<g id="Tp"><ellipse cx="1043" cy="118" rx="34" ry="3.4"/></g>
<g id="Tq"><ellipse cx="1059" cy="128" rx="38" ry="3.4"/></g>
<g id="Tr"><ellipse cx="1181" cy="114" rx="34" ry="3.4"/></g>
<g id="Ts"><ellipse cx="1197" cy="122.5" rx="32" ry="3.4"/></g>
<g id="Tt"><ellipse cx="1046" cy="145" rx="31" ry="3.4"/></g>
<g id="Tu"><ellipse cx="1065" cy="152" rx="41" ry="3.4"/></g>
<g id="Tv"><ellipse cx="1190" cy="143" rx="31" ry="3.4"/></g>
<g id="Tw"><ellipse cx="1173" cy="148.6" rx="27" ry="3.4"/></g>
<g id="Tx"><ellipse cx="1059" cy="171.6" rx="37" ry="3.4"/></g>
<g id="Tz"><ellipse cx="1155" cy="171" rx="42" ry="3.4"/></g>
<g id="Taa"><ellipse cx="1178" cy="168" rx="25" ry="3.4"/></g>
<g id="Tbb"><ellipse cx="1103" cy="183.6" rx="31.5" ry="3.4"/></g>
<g id="Tcc"><ellipse cx="1138" cy="182.6" rx="25" ry="3.4"/></g>
<g id="Tdd"><ellipse cx="1083.5" cy="192.6" rx="34" ry="3.4"/></g>
<g id="Tee"><ellipse cx="1150" cy="190.7" rx="34" ry="3.4"/></g>
<g id="Tff"><ellipse cx="1117" cy="199" rx="20" ry="3.4"/></g>
<g id="T0"><ellipse cx="1106" cy="121" rx="28" ry="3.4"/></g>
<g id="P"><ellipse cx="1121" cy="125" rx="22" ry="3.4"/></g>
<g id="U1"><ellipse cx="1235" cy="224" rx="48" ry="3.4"/></g>
<g id="U2"><ellipse cx="1280" cy="222" rx="42" ry="3.4"/></g>
<g id="U3"><ellipse cx="1214" cy="244" rx="35" ry="3.4"/></g>
<g id="U4"><ellipse cx="1293" cy="243" rx="37" ry="3.4"/></g>
<g id="U5"><ellipse cx="1312" cy="254" rx="33" ry="3.4"/></g>
<g id="U6"><ellipse cx="1195" cy="264" rx="31" ry="3.4"/></g>
<g id="U7"><ellipse cx="1303" cy="275" rx="26" ry="3.4"/></g>
<g id="U8"><ellipse cx="1199" cy="288" rx="34" ry="3.4"/></g>
<g id="U9"><ellipse cx="1312" cy="294" rx="27" ry="3.4"/></g>
<g id="U10"><ellipse cx="1293" cy="307" rx="36" ry="3.4"/></g>
<g id="U11"><ellipse cx="1199" cy="312" rx="34" ry="3.4"/></g>
<g id="U12"><ellipse cx="1220" cy="319" rx="32" ry="3.4"/></g>
<g id="U13"><ellipse cx="1252" cy="325.5" rx="38.5" ry="3.4"/></g>
<g id="U14"><ellipse cx="1277" cy="334.5" rx="31" ry="3.4"/></g>
<g id="U15"><ellipse cx="1232" cy="337" rx="38.5" ry="3.4"/></g>
<g id="hub2"><ellipse cx="1250" cy="275" rx="14" ry="3.4"/></g>
<g id="hub3"><ellipse cx="1308" cy="363" rx="14" ry="3.4"/></g>
<g id="V1"><ellipse cx="1355" cy="357" rx="25" ry="3.4"/></g>
<g id="V2"><ellipse cx="1285" cy="404" rx="27" ry="3.4"/></g>
<g id="V3"><ellipse cx="1349" cy="393" rx="38" ry="3.4"/></g>
<g id="V4"><ellipse cx="1320" cy="412" rx="46" ry="3.4"/></g>
<g id="W"><ellipse cx="1155" cy="942" rx="12" ry="3.4"/></g>
<g id="W1"><ellipse cx="1133" cy="896" rx="12" ry="3.4"/></g>
<g id="W2"><ellipse cx="1162" cy="890" rx="26" ry="3.4"/></g>
<g id="W3"><ellipse cx="1188" cy="902" rx="25" ry="3.4"/></g>
<g id="W4"><ellipse cx="1205" cy="926" rx="33" ry="3.4"/></g>
<g id="W5"><ellipse cx="1111" cy="915" rx="19" ry="3.4"/></g>
<g id="W6"><ellipse cx="1104" cy="944" rx="22" ry="3.4"/></g>
<g id="W7"><ellipse cx="1205" cy="956" rx="23" ry="3.4"/></g>
<g id="W8"><ellipse cx="1111" cy="972" rx="28" ry="3.4"/></g>
<g id="W9"><ellipse cx="1188" cy="981" rx="16" ry="3.4"/></g>
<g id="W10"><ellipse cx="1131" cy="990" rx="34" ry="3.4"/></g>
<g id="W11"><ellipse cx="1162" cy="994" rx="25" ry="3.4"/></g>
<g id="x1"><ellipse cx="192" cy="305" rx="16" ry="3.4"/></g>
<g id="x2"><ellipse cx="210" cy="271" rx="22" ry="3.4"/></g>
<g id="x3"><ellipse cx="175" cy="339" rx="38" ry="3.4"/></g>
<g id="x4"><ellipse cx="137" cy="523" rx="18" ry="3.4"/></g>
<g id="x5"><ellipse cx="143" cy="560" rx="33" ry="3.4"/></g>
<g id="x6"><ellipse cx="133" cy="705" rx="16" ry="3.4"/></g>
<g id="x7"><ellipse cx="138" cy="742" rx="17" ry="3.4"/></g>
<g id="x8"><ellipse cx="242" cy="710" rx="35" ry="3.4"/></g>
<g id="x9"><ellipse cx="260" cy="742" rx="21" ry="3.4"/></g>
<g id="x10"><ellipse cx="226" cy="857" rx="14" ry="3.4"/></g>
<g id="x11"><ellipse cx="262" cy="849" rx="20" ry="3.4"/></g>
<g id="x12"><ellipse cx="340" cy="915" rx="9" ry="3.4"/></g>
<g id="x13"><ellipse cx="348" cy="953" rx="15" ry="3.4"/></g>
<g id="x14"><ellipse cx="357" cy="993" rx="16" ry="3.4"/></g>
<g id="x15"><ellipse cx="367" cy="1030" rx="15" ry="3.4"/></g>
<g id="x16"><ellipse cx="991" cy="1172" rx="13" ry="3.4"/></g>
<g id="x17"><ellipse cx="1006" cy="1205" rx="13" ry="3.4"/></g>
<g id="x18"><ellipse cx="1258" cy="1104" rx="18" ry="3.4"/></g>
<g id="x19"><ellipse cx="1284" cy="1078" rx="25" ry="3.4"/></g>
<g id="x20"><ellipse cx="1378" cy="697" rx="18" ry="3.4"/></g>
<g id="x21"><ellipse cx="1399" cy="665" rx="29" ry="3.4"/></g>
<g id="x22"><ellipse cx="1357" cy="730" rx="98" ry="3.4"/></g>
</g>
</g>
</svg>
